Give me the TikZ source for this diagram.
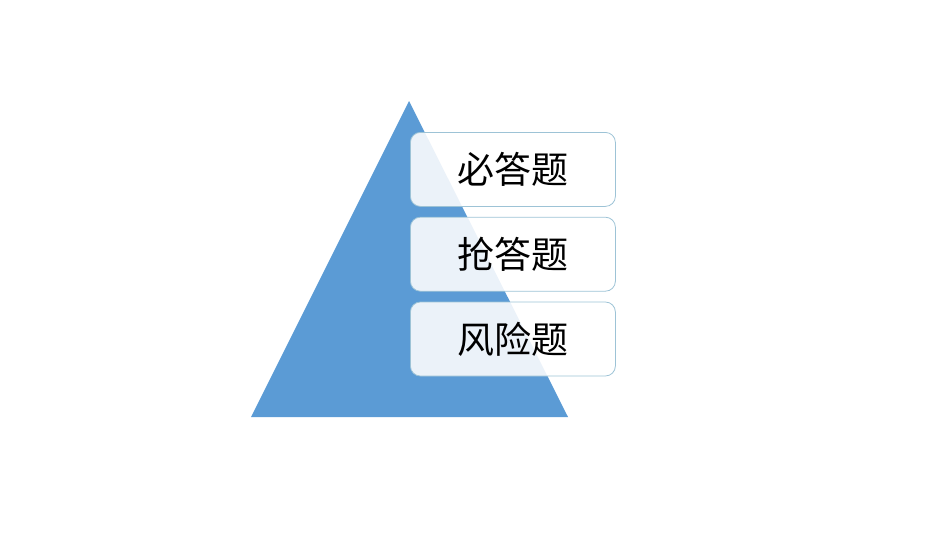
\documentclass[tikz,border=0pt]{standalone}
\usepackage{fontspec}
\newfontfamily\cjk{Noto Sans CJK SC}
\usetikzlibrary{positioning}
\definecolor{pyrblue}{HTML}{5B9BD5}
\definecolor{boxline}{HTML}{9DC3D6}
\tikzset{tier/.style={draw=boxline,line width=0.8pt,fill=white,fill opacity=0.88,text opacity=1,rounded corners=10pt,minimum width=205pt,minimum height=74pt,inner sep=0pt,font=\cjk\fontsize{37}{42}\selectfont}}
\begin{document}
\begin{tikzpicture}[x=1pt,y=-1pt]
\useasboundingbox (0,0) rectangle (950,535);
\fill[pyrblue](409,101)coordinate(top)--(251,417)coordinate(bl)--(568,417)coordinate(br)--cycle;
\node[tier,anchor=north west](must)at(410,132){必答题};
\node[tier,below=10pt of must](grab){抢答题};
\node[tier,below=10pt of grab](risk){风险题};
\end{tikzpicture}
\end{document}
